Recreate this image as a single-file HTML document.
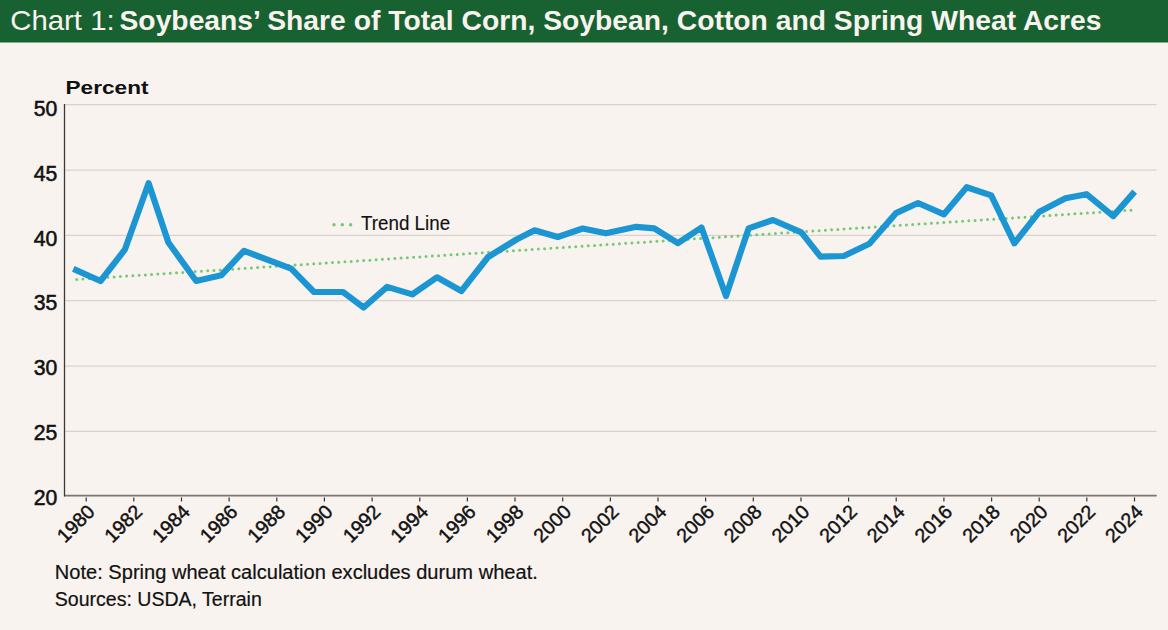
<!DOCTYPE html>
<html><head><meta charset="utf-8"><style>
html,body{margin:0;padding:0;}
body{width:1168px;height:630px;overflow:hidden;background:#f8f3ef;position:relative;font-family:"Liberation Sans",sans-serif;}
svg{position:absolute;left:0;top:0;}
svg text{font-family:"Liberation Sans",sans-serif;fill:#111;}
</style></head><body>
<svg width="1168" height="630" viewBox="0 0 1168 630">
<rect x="0" y="0" width="1168" height="42.5" fill="#186131"/>
<g fill="#f8f3ef" style="fill:#f8f3ef" font-size="27.2">
<text x="10.2" y="30" textLength="104.5" lengthAdjust="spacingAndGlyphs" style="fill:#f8f3ef">Chart 1:</text>
<text x="119.5" y="30" font-weight="bold" textLength="982" lengthAdjust="spacingAndGlyphs" style="fill:#f8f3ef">Soybeans’ Share of Total Corn, Soybean, Cotton and Spring Wheat Acres</text>
</g>
<g stroke="#d9d3ce" stroke-width="1.25"><line x1="64.5" y1="104.5" x2="1156.5" y2="104.5"/><line x1="64.5" y1="170.0" x2="1156.5" y2="170.0"/><line x1="64.5" y1="235.4" x2="1156.5" y2="235.4"/><line x1="64.5" y1="300.5" x2="1156.5" y2="300.5"/><line x1="64.5" y1="366.0" x2="1156.5" y2="366.0"/><line x1="64.5" y1="431.3" x2="1156.5" y2="431.3"/></g>
<line x1="64.5" y1="495.7" x2="1156.7" y2="495.7" stroke="#7a7572" stroke-width="1.8"/><line x1="64.5" y1="104" x2="64.5" y2="496.5" stroke="#3a3a3a" stroke-width="1.3"/>
<g stroke="#333" stroke-width="1.2"><line x1="86.2" y1="497.4" x2="86.2" y2="501.5"/><line x1="133.8" y1="497.4" x2="133.8" y2="501.5"/><line x1="181.5" y1="497.4" x2="181.5" y2="501.5"/><line x1="229.1" y1="497.4" x2="229.1" y2="501.5"/><line x1="276.8" y1="497.4" x2="276.8" y2="501.5"/><line x1="324.4" y1="497.4" x2="324.4" y2="501.5"/><line x1="372.1" y1="497.4" x2="372.1" y2="501.5"/><line x1="419.8" y1="497.4" x2="419.8" y2="501.5"/><line x1="467.4" y1="497.4" x2="467.4" y2="501.5"/><line x1="515.0" y1="497.4" x2="515.0" y2="501.5"/><line x1="562.7" y1="497.4" x2="562.7" y2="501.5"/><line x1="610.4" y1="497.4" x2="610.4" y2="501.5"/><line x1="658.0" y1="497.4" x2="658.0" y2="501.5"/><line x1="705.6" y1="497.4" x2="705.6" y2="501.5"/><line x1="753.3" y1="497.4" x2="753.3" y2="501.5"/><line x1="801.0" y1="497.4" x2="801.0" y2="501.5"/><line x1="848.6" y1="497.4" x2="848.6" y2="501.5"/><line x1="896.2" y1="497.4" x2="896.2" y2="501.5"/><line x1="943.9" y1="497.4" x2="943.9" y2="501.5"/><line x1="991.6" y1="497.4" x2="991.6" y2="501.5"/><line x1="1039.2" y1="497.4" x2="1039.2" y2="501.5"/><line x1="1086.8" y1="497.4" x2="1086.8" y2="501.5"/><line x1="1134.5" y1="497.4" x2="1134.5" y2="501.5"/></g>
<line x1="76.7" y1="279.4" x2="1131.6" y2="210.15" stroke="#76c976" stroke-width="3" stroke-linecap="round" stroke-dasharray="0 6.252"/>
<polyline points="73.3,268.8 100.5,281.0 124.8,249.7 148.6,183.2 168.4,242.5 196.2,281.0 221.2,275.3 244.0,250.8 291.2,268.7 314.0,292.0 343.0,292.0 363.6,307.5 387.1,286.9 412.3,294.4 437.0,277.3 461.4,291.0 488.1,257.0 516.5,239.5 534.6,230.3 557.8,237.0 582.7,228.5 606.0,233.3 636.2,226.8 654.3,228.3 677.9,243.2 701.5,227.5 726.0,296.0 748.6,228.4 772.9,220.0 801.3,232.4 820.5,256.7 843.7,256.0 869.4,243.7 896.0,213.1 918.0,203.0 944.0,214.3 966.7,187.2 991.2,195.4 1014.4,243.3 1039.0,212.1 1065.5,198.2 1086.5,194.2 1113.2,216.1 1134.7,191.6" fill="none" stroke="#1b96d3" stroke-width="6.2" stroke-linejoin="round"/>
<g font-size="21.2" style="stroke:#111;stroke-width:0.55"><text x="57.4" y="116.1" text-anchor="end">50</text><text x="57.4" y="180.8" text-anchor="end">45</text><text x="57.4" y="245.6" text-anchor="end">40</text><text x="57.4" y="310.3" text-anchor="end">35</text><text x="57.4" y="375.1" text-anchor="end">30</text><text x="57.4" y="439.8" text-anchor="end">25</text><text x="57.4" y="504.6" text-anchor="end">20</text></g>
<g font-size="19.6" style="stroke:#111;stroke-width:0.45"><text transform="translate(90.9,508) rotate(-45)" text-anchor="end" dy="7">1980</text><text transform="translate(138.5,508) rotate(-45)" text-anchor="end" dy="7">1982</text><text transform="translate(186.2,508) rotate(-45)" text-anchor="end" dy="7">1984</text><text transform="translate(233.8,508) rotate(-45)" text-anchor="end" dy="7">1986</text><text transform="translate(281.5,508) rotate(-45)" text-anchor="end" dy="7">1988</text><text transform="translate(329.1,508) rotate(-45)" text-anchor="end" dy="7">1990</text><text transform="translate(376.8,508) rotate(-45)" text-anchor="end" dy="7">1992</text><text transform="translate(424.4,508) rotate(-45)" text-anchor="end" dy="7">1994</text><text transform="translate(472.1,508) rotate(-45)" text-anchor="end" dy="7">1996</text><text transform="translate(519.8,508) rotate(-45)" text-anchor="end" dy="7">1998</text><text transform="translate(567.4,508) rotate(-45)" text-anchor="end" dy="7">2000</text><text transform="translate(615.1,508) rotate(-45)" text-anchor="end" dy="7">2002</text><text transform="translate(662.7,508) rotate(-45)" text-anchor="end" dy="7">2004</text><text transform="translate(710.4,508) rotate(-45)" text-anchor="end" dy="7">2006</text><text transform="translate(758.0,508) rotate(-45)" text-anchor="end" dy="7">2008</text><text transform="translate(805.7,508) rotate(-45)" text-anchor="end" dy="7">2010</text><text transform="translate(853.3,508) rotate(-45)" text-anchor="end" dy="7">2012</text><text transform="translate(901.0,508) rotate(-45)" text-anchor="end" dy="7">2014</text><text transform="translate(948.6,508) rotate(-45)" text-anchor="end" dy="7">2016</text><text transform="translate(996.3,508) rotate(-45)" text-anchor="end" dy="7">2018</text><text transform="translate(1043.9,508) rotate(-45)" text-anchor="end" dy="7">2020</text><text transform="translate(1091.5,508) rotate(-45)" text-anchor="end" dy="7">2022</text><text transform="translate(1139.2,508) rotate(-45)" text-anchor="end" dy="7">2024</text></g>
<text x="65.5" y="94.2" font-size="18.5" font-weight="bold" textLength="83" lengthAdjust="spacingAndGlyphs">Percent</text>
<line x1="334" y1="224.8" x2="351" y2="224.8" stroke="#74c874" stroke-width="3.4" stroke-linecap="round" stroke-dasharray="0 8.3"/>
<text x="361.1" y="230.2" font-size="20" style="stroke:#111;stroke-width:0.15" textLength="89" lengthAdjust="spacingAndGlyphs">Trend Line</text>
<text x="54.8" y="579" font-size="20" style="stroke:#111;stroke-width:0.2" textLength="483" lengthAdjust="spacingAndGlyphs">Note: Spring wheat calculation excludes durum wheat.</text>
<text x="54.8" y="606.2" font-size="20" style="stroke:#111;stroke-width:0.2" textLength="207" lengthAdjust="spacingAndGlyphs">Sources: USDA, Terrain</text>
</svg>
</body></html>
